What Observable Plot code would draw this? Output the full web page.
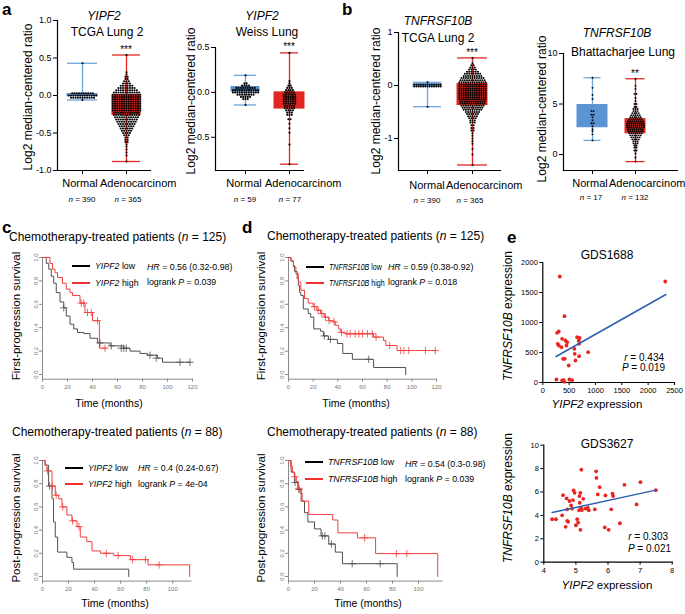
<!DOCTYPE html>
<html><head><meta charset="utf-8">
<script src="https://cdn.jsdelivr.net/npm/d3@7"></script>
<script src="https://cdn.jsdelivr.net/npm/@observablehq/plot@0.6"></script>
<style>
body{margin:0;background:#fff;}
#fig{position:relative;width:685px;height:614px;overflow:hidden;font-family:"Liberation Sans",Arial,Helvetica,sans-serif;color:#000;background:#fff;}
.t{position:absolute;white-space:nowrap;line-height:1;}
.p{position:absolute;}
.sw{position:absolute;height:2px;}
</style></head><body><div id="fig"></div>
<script>
// ---------------- DATA ----------------
const boxCategories = ["Normal", "Adenocarcinom"];
// five-number summaries: [min, q1, median, q3, max]
const a1Stats = [[-0.06, -0.01, 0.0, 0.02, 0.43], [-0.88, -0.26, -0.12, 0.0, 0.54]];
const a2Stats = [[-0.14, 0.01, 0.03, 0.06, 0.19], [-0.80, -0.18, -0.08, 0.0, 0.44]];
const b1Stats = [[-0.40, -0.02, 0.0, 0.02, 0.06], [-1.50, -0.37, -0.17, 0.03, 0.52]];
const b2Stats = [[1.4, 2.7, 3.6, 4.9, 7.6], [-0.7, 2.1, 2.8, 3.5, 7.5]];
const boxN = {a1: [390, 365], a2: [59, 77], b1: [390, 365], b2: [17, 132]};
// individual samples as [value, count at that level]
const a1NormalDots = [[0.43,1],[0.03,10],[0.0,13],[-0.03,11],[-0.06,1]];
const a1AdenoDots = [[0.54,1],[0.31,1],[0.28,1],[0.25,2],[0.22,2],[0.19,3],[0.16,4],[0.13,6],[0.10,8],[0.07,10],[0.04,12],[0.01,13],[-0.02,13],[-0.05,13],[-0.08,13],[-0.11,13],[-0.14,13],[-0.17,13],[-0.20,13],[-0.23,12],[-0.26,12],[-0.29,11],[-0.32,10],[-0.35,9],[-0.38,8],[-0.41,7],[-0.44,6],[-0.47,5],[-0.50,4],[-0.53,3],[-0.56,2],[-0.59,2],[-0.62,2],[-0.65,1],[-0.68,1],[-0.72,1],[-0.76,1],[-0.80,1],[-0.88,1]];
const a2NormalDots = [[0.19,1],[0.1,2],[0.075,4],[0.05,9],[0.025,12],[0.0,12],[-0.025,8],[-0.05,5],[-0.075,3],[-0.14,1]];
const a2AdenoDots = [[0.44,1],[0.125,1],[0.10,1],[0.075,2],[0.05,3],[0.025,4],[0.0,5],[-0.025,6],[-0.05,6],[-0.075,6],[-0.1,6],[-0.125,6],[-0.15,5],[-0.175,5],[-0.2,4],[-0.225,3],[-0.25,3],[-0.3,2],[-0.35,1],[-0.4,1],[-0.45,1],[-0.58,1],[-0.8,1]];
const b1NormalDots = [[0.06,1],[0.02,13],[-0.02,13],[-0.4,1]];
const b1AdenoDots = [[0.52,1],[0.42,1],[0.38,2],[0.34,3],[0.30,4],[0.26,6],[0.22,8],[0.18,9],[0.14,11],[0.10,12],[0.06,13],[0.02,13],[-0.02,13],[-0.06,13],[-0.10,13],[-0.14,13],[-0.18,13],[-0.22,13],[-0.26,13],[-0.30,12],[-0.34,12],[-0.38,11],[-0.42,10],[-0.46,9],[-0.50,7],[-0.54,6],[-0.58,5],[-0.62,4],[-0.66,3],[-0.70,3],[-0.75,2],[-0.80,2],[-0.85,2],[-0.9,1],[-0.95,1],[-1.0,1],[-1.05,1],[-1.1,1],[-1.2,1],[-1.3,1],[-1.5,1]];
const b2NormalDots = [[7.6,1],[6.6,1],[5.9,1],[5.5,1],[4.3,2],[3.95,2],[3.7,1],[3.4,1],[3.1,2],[2.8,1],[2.5,1],[2.3,1],[2.0,1],[1.4,1]];
const b2AdenoDots = [[7.5,1],[6.8,1],[6.5,1],[6.0,2],[5.6,1],[5.3,1],[5.0,2],[4.7,2],[4.5,3],[4.3,3],[4.1,4],[3.9,5],[3.7,6],[3.5,7],[3.3,8],[3.1,9],[2.9,9],[2.7,9],[2.5,8],[2.3,8],[2.1,7],[1.9,6],[1.7,5],[1.5,4],[1.3,3],[1.1,3],[0.9,2],[0.7,2],[0.4,2],[0.1,1],[-0.3,1],[-0.7,1]];
const a1Ticks = [-1, -0.5, 0, 0.5, 1];
const a2Ticks = [-0.5, 0, 0.5];
const b1Ticks = [-1, 0, 1];
const b2Ticks = [0, 5, 10];

// Kaplan-Meier curves (time in months, survival probability)
const cTopLowT = [0, 3, 5, 7, 9, 11, 14, 17, 19, 22, 25, 28, 33, 38, 44, 54, 65, 70, 78, 84, 92, 96, 118];
const cTopLowS = [1, 0.95, 0.9, 0.84, 0.78, 0.7, 0.62, 0.57, 0.5, 0.43, 0.39, 0.36, 0.35, 0.31, 0.27, 0.245, 0.225, 0.2, 0.18, 0.165, 0.14, 0.105, 0.105];
const cTopLowCensT = [17, 46, 55, 63, 65, 67, 86, 91, 110, 118];
const cTopLowCensS = [0.57, 0.27, 0.245, 0.225, 0.225, 0.225, 0.165, 0.14, 0.105, 0.105];
const cTopHighT = [0, 6, 8, 10, 12, 16, 19, 22, 24, 30, 34, 40, 45.5, 51];
const cTopHighS = [1, 0.95, 0.9, 0.87, 0.83, 0.78, 0.73, 0.7, 0.675, 0.61, 0.53, 0.46, 0.225, 0.225];
const cTopHighCensT = [31, 33, 36, 39, 44, 50];
const cTopHighCensS = [0.61, 0.61, 0.53, 0.53, 0.46, 0.225];

const cBotLowT = [0, 2, 4.7, 7.3, 8.5, 9.8, 11.6, 18.7, 22.6, 23.9, 66.2];
const cBotLowS = [1, 0.96, 0.78, 0.67, 0.47, 0.34, 0.21, 0.165, 0.12, 0.063, 0];
const cBotLowCensT = [5.4];
const cBotLowCensS = [0.78];
const cBotHighT = [0, 2, 3.4, 7.3, 9.8, 12.4, 15, 18.7, 22.6, 26.5, 29, 34, 38, 44.5, 54.7, 67.5, 81, 113];
const cBotHighS = [1, 0.96, 0.91, 0.78, 0.70, 0.67, 0.60, 0.53, 0.48, 0.43, 0.34, 0.30, 0.22, 0.20, 0.18, 0.145, 0.10, 0];
const cBotHighCensT = [3.8, 7.6, 10.5, 15.5, 23, 28, 49, 58, 69, 79, 89.5];
const cBotHighCensS = [0.91, 0.78, 0.70, 0.60, 0.48, 0.43, 0.20, 0.18, 0.145, 0.145, 0.10];

const dTopLowT = [0, 2, 4, 5, 7, 8, 9, 10, 12, 16, 18, 20.5, 26, 28.3, 32.4, 39.6, 44, 51.8, 69, 95];
const dTopLowS = [1, 0.97, 0.93, 0.88, 0.82, 0.76, 0.70, 0.675, 0.56, 0.52, 0.49, 0.39, 0.37, 0.33, 0.30, 0.265, 0.18, 0.13, 0.06, 0];
const dTopLowCensT = [29, 34, 65];
const dTopLowCensS = [0.33, 0.30, 0.13];
const dTopHighT = [0, 2, 4, 6, 8, 10, 13, 16, 20, 23, 26, 29, 32.6, 36.4, 38, 40.7, 42, 46, 69, 77, 79, 88, 119];
const dTopHighS = [1, 0.97, 0.92, 0.86, 0.79, 0.72, 0.65, 0.61, 0.58, 0.55, 0.52, 0.49, 0.46, 0.45, 0.42, 0.39, 0.36, 0.348, 0.32, 0.29, 0.248, 0.205, 0.205];
const dTopHighCensT = [21, 24, 27, 30, 33, 37, 43, 47.5, 50, 54, 57, 60, 64, 68, 71, 82, 91, 93.5, 97.5, 111, 119];
const dTopHighCensS = [0.58, 0.55, 0.52, 0.49, 0.46, 0.45, 0.36, 0.348, 0.348, 0.348, 0.348, 0.348, 0.348, 0.348, 0.32, 0.248, 0.205, 0.205, 0.205, 0.205, 0.205];

const dBotLowT = [0, 2, 4.6, 7.2, 9.7, 12.3, 14.9, 20, 25, 31, 36, 41.5, 83.6];
const dBotLowS = [1, 0.9, 0.81, 0.75, 0.65, 0.55, 0.47, 0.41, 0.35, 0.28, 0.21, 0.11, 0];
const dBotLowCensT = [5, 8, 26, 28, 33, 49, 70.5];
const dBotLowCensS = [0.81, 0.75, 0.35, 0.35, 0.28, 0.11, 0.11];
const dBotHighT = [0, 1.5, 3, 4.5, 6, 7.5, 9, 10.5, 15.6, 34, 38, 53, 67, 114.8];
const dBotHighS = [1, 0.95, 0.9, 0.86, 0.82, 0.76, 0.72, 0.65, 0.535, 0.487, 0.376, 0.333, 0.197, 0];
const dBotHighCensT = [5, 8, 58.5, 83, 91];
const dBotHighCensS = [0.86, 0.76, 0.333, 0.197, 0.197];
const kmYTicks = [0, 0.2, 0.4, 0.6, 0.8, 1.0];

// Scatter GDS1688
const e1X = [322, 2324, 411, 272, 303, 284, 303, 367, 430, 462, 450, 354, 386, 417, 492, 619, 600, 606, 651, 701, 682, 690, 690, 860, 259, 367, 398, 505, 556, 411];
const e1Y = [1767, 1683, 1105, 828, 850, 645, 617, 728, 700, 672, 617, 589, 395, 395, 283, 367, 561, 478, 756, 745, 700, 645, 439, 506, 50, 33, 39, 50, 39, 11];
const e1FitX = [253, 2337];
const e1FitY = [433, 1467];
const e1XTicks = [0, 500, 1000, 1500, 2000, 2500];
const e1YTicks = [0, 500, 1000, 1500, 2000];
// Scatter GDS3627
const e2X = [4.26, 4.38, 4.57, 4.60, 4.68, 4.71, 4.73, 4.76, 4.80, 4.73, 4.88, 4.93, 4.96, 4.91, 5.00, 5.04, 5.07, 5.14, 5.17, 5.14, 5.11, 5.12, 5.16, 5.19, 5.23, 5.10, 5.30, 5.37, 5.40, 5.59, 5.63, 5.64, 5.68, 5.74, 5.92, 5.90, 6.02, 6.10, 6.14, 6.16, 6.37, 6.51, 6.89, 7.01, 7.49, 4.85];
const e2Y = [3.67, 3.67, 4.01, 5.73, 3.02, 5.45, 3.53, 3.45, 5.23, 4.52, 4.58, 6.13, 5.93, 5.31, 3.16, 3.67, 3.39, 2.77, 7.91, 5.93, 5.65, 5.08, 4.66, 4.46, 5.42, 4.44, 4.58, 4.66, 4.44, 4.52, 7.77, 7.20, 5.79, 6.41, 5.71, 2.97, 2.77, 4.52, 5.85, 5.65, 3.33, 6.61, 4.94, 6.84, 6.16, 4.86];
const e2FitX = [4.26, 7.49];
const e2FitY = [4.24, 6.16];
const e2XTicks = [4, 5, 6, 7, 8];
const e2YTicks = [0, 2, 4, 6, 8, 10];

// ---------------- HELPERS ----------------
const FONT = '"Liberation Sans", Arial, Helvetica, sans-serif';
const BLUE = "#5b93d3", BLUE_W = "#6ea6de", RED = "#e3261f";
const KM_LOW = "#505050", KM_HIGH = "#f23f3f";
const fig = document.getElementById("fig");
const baseStyle = {fontFamily: FONT, fontSize: "9px", background: "transparent", color: "#000", overflow: "visible"};

function place(el, left, top) {
  const d = document.createElement("div");
  d.className = "p"; d.style.left = left + "px"; d.style.top = top + "px";
  d.appendChild(el); fig.appendChild(d);
}
function txt(html, x, cy, o = {}) {
  const d = document.createElement("div");
  d.className = "t"; d.innerHTML = html;
  d.style.fontSize = (o.fs || 12) + "px";
  d.style.left = x + "px"; d.style.top = cy + "px";
  if (o.bold) d.style.fontWeight = "bold";
  if (o.color) d.style.color = o.color;
  const tx = o.anchor === "middle" ? "-50%" : o.anchor === "end" ? "-100%" : "0";
  const sx = o.sx ? ` scaleX(${o.sx})` : "";
  if (o.sx) d.style.transformOrigin = "0 50%";
  d.style.transform = o.rotate ? "translate(-50%,-50%) rotate(-90deg)" : `translate(${tx},-50%)${sx}`;
  fig.appendChild(d);
}
function swatch(x1, x2, y, color) {
  const d = document.createElement("div");
  d.className = "sw"; d.style.left = x1 + "px"; d.style.width = (x2 - x1) + "px";
  d.style.top = (y - 1) + "px"; d.style.background = color; fig.appendChild(d);
}
const rows = (t, s) => t.map((tt, i) => ({t: tt, s: s[i]}));
const pts = (xs, ys) => xs.map((x, i) => ({x, y: ys[i]}));

function boxPanel(p) {
  const {left, top, width, height, mL, mR, mT, mB, domain, ticks, fmt, centers, bw, stats, dots, caps, insets, colors, whisk, r, gap} = p;
  const step = centers[1] - centers[0];
  const marks = [];
  boxCategories.forEach((g, i) => {
    const s = stats[i];
    const row = [{g, min: s[0], q1: s[1], med: s[2], q3: s[3], max: s[4]}];
    marks.push(Plot.ruleX(row, {x: "g", y1: "min", y2: "max", stroke: whisk[i], strokeWidth: 1.3}));
    marks.push(Plot.tickY(row, {x: "g", y: "min", stroke: whisk[i], strokeWidth: 1.3, insetLeft: caps[i], insetRight: caps[i]}));
    marks.push(Plot.tickY(row, {x: "g", y: "max", stroke: whisk[i], strokeWidth: 1.3, insetLeft: caps[i], insetRight: caps[i]}));
    marks.push(Plot.barY(row, {x: "g", y1: "q1", y2: "q3", fill: colors[i], stroke: colors[i], strokeWidth: 1, insetLeft: insets[i], insetRight: insets[i]}));
  });
  // column scatter: samples sharing a level are spread in a centred row
  boxCategories.forEach((g, i) => {
    const slots = new Map();
    dots[i].forEach(([v, k]) => {
      for (let j = 0; j < k; j++) {
        const s = j - (k - 1) / 2;
        if (!slots.has(s)) slots.set(s, []);
        slots.get(s).push({g, v});
      }
    });
    for (const [s, arr] of slots) marks.push(Plot.dot(arr, {x: "g", y: "v", r, fill: "#000", dx: s * gap}));
  });
  marks.push(Plot.frame({anchor: "left", stroke: "#000", strokeWidth: 1.2}));
  marks.push(Plot.frame({anchor: "bottom", stroke: "#000", strokeWidth: 1.2}));
  marks.push(Plot.axisY({ticks, tickFormat: fmt, tickSize: 4, tickPadding: 2, fontSize: 9, label: null}));
  marks.push(Plot.axisX({tickSize: 4, tickFormat: () => "", label: null}));
  const plot = Plot.plot({
    width, height, marginLeft: mL, marginRight: mR, marginTop: mT, marginBottom: mB,
    x: {type: "band", domain: boxCategories, range: [centers[0] - bw / 2, centers[1] + bw / 2], paddingInner: (step - bw) / step, paddingOuter: 0, align: 0.5},
    y: {domain},
    style: baseStyle,
    marks
  });
  place(plot, left, top);
}

function kmPanel(p) {
  const {left, top, width, height, mL, mR, mT, mB, xmax, xticks, low, high, lowC, highC} = p;
  const plot = Plot.plot({
    width, height, marginLeft: mL, marginRight: mR, marginTop: mT, marginBottom: mB,
    x: {domain: [0, xmax]}, y: {domain: [-0.04, 1]},
    style: baseStyle,
    marks: [
      Plot.frame({anchor: "left", stroke: "#8a8a8a"}),
      Plot.frame({anchor: "bottom", stroke: "#8a8a8a"}),
      Plot.line(low, {x: "t", y: "s", curve: "step-after", stroke: KM_LOW, strokeWidth: 1}),
      Plot.line(high, {x: "t", y: "s", curve: "step-after", stroke: KM_HIGH, strokeWidth: 1}),
      Plot.dot(lowC, {x: "t", y: "s", symbol: "plus", r: 2.5, stroke: KM_LOW, strokeWidth: 0.8}),
      Plot.dot(highC, {x: "t", y: "s", symbol: "plus", r: 2.5, stroke: KM_HIGH, strokeWidth: 0.8}),
      Plot.axisX({ticks: xticks, tickSize: 3, tickPadding: 3, fontSize: 6, stroke: "#8a8a8a", fill: "#777", label: null}),
      Plot.axisY({ticks: kmYTicks, tickFormat: d => d.toFixed(1), tickSize: 3, tickPadding: 2, tickRotate: -90, fontSize: 6, stroke: "#8a8a8a", fill: "#777", label: null})
    ]
  });
  place(plot, left, top);
}

function scatterPanel(p) {
  const {left, top, width, height, mL, mR, mT, mB, xDomain, yDomain, xTicks, yTicks, data, fit} = p;
  const plot = Plot.plot({
    width, height, marginLeft: mL, marginRight: mR, marginTop: mT, marginBottom: mB,
    x: {domain: xDomain}, y: {domain: yDomain},
    style: baseStyle,
    marks: [
      Plot.frame({anchor: "left", stroke: "#000", strokeWidth: 1.2}),
      Plot.frame({anchor: "bottom", stroke: "#000", strokeWidth: 1.2}),
      Plot.dot(data, {x: "x", y: "y", r: 1.9, fill: "#e8261f"}),
      Plot.line(fit, {x: "x", y: "y", stroke: "#2d5fb0", strokeWidth: 1.5}),
      Plot.axisX({ticks: xTicks, tickFormat: d => String(d), tickSize: 3, tickPadding: 2, fontSize: 7.5, label: null}),
      Plot.axisY({ticks: yTicks, tickFormat: d => String(d), tickSize: 3, tickPadding: 2, fontSize: 7.5, label: null})
    ]
  });
  place(plot, left, top);
}

// ---------------- PANELS a, b ----------------
const f1 = d => d.toFixed(1), f0 = d => String(d);
boxPanel({left: 0, top: 0, width: 170, height: 192, mL: 57, mR: 20, mT: 20, mB: 22, domain: [-1, 1], ticks: a1Ticks, fmt: f1, r: 1.05, gap: 2.3,
  centers: [82, 126], bw: 30, stats: a1Stats, dots: [a1NormalDots, a1AdenoDots], caps: [0, 1], insets: [0, 1], colors: [BLUE, RED], whisk: [BLUE_W, RED]});
boxPanel({left: 170, top: 0, width: 140, height: 192, mL: 45, mR: 7, mT: 47, mB: 22, domain: [-0.87, 0.5], ticks: a2Ticks, fmt: f1, r: 1.05, gap: 2.3,
  centers: [75, 119], bw: 30, stats: a2Stats, dots: [a2NormalDots, a2AdenoDots], caps: [4, 6], insets: [1, 0], colors: [BLUE, RED], whisk: [BLUE_W, RED]});
boxPanel({left: 340, top: 0, width: 170, height: 192, mL: 58, mR: 10, mT: 32, mB: 22, domain: [-1.604, 1], ticks: b1Ticks, fmt: f0, r: 1.0, gap: 2.2,
  centers: [87, 132], bw: 30, stats: b1Stats, dots: [b1NormalDots, b1AdenoDots], caps: [1, 0], insets: [1, 0], colors: [BLUE, RED], whisk: [BLUE_W, RED]});
boxPanel({left: 510, top: 0, width: 175, height: 192, mL: 53, mR: 8, mT: 53, mB: 22, domain: [-1.58, 10], ticks: b2Ticks, fmt: f0, r: 0.95, gap: 2.1,
  centers: [82, 125], bw: 30, stats: b2Stats, dots: [b2NormalDots, b2AdenoDots], caps: [6.5, 5.5], insets: [0, 5], colors: [BLUE, RED], whisk: [BLUE_W, RED]});

// ---------------- PANELS c, d ----------------
const T120 = [0, 20, 40, 60, 80, 100, 120], T100 = [0, 20, 40, 60, 80, 100];
kmPanel({left: 0, top: 240, width: 200, height: 175, mL: 42, mR: 8, mT: 17, mB: 36.3, xmax: 120, xticks: T120,
  low: rows(cTopLowT, cTopLowS), high: rows(cTopHighT, cTopHighS), lowC: rows(cTopLowCensT, cTopLowCensS), highC: rows(cTopHighCensT, cTopHighCensS)});
kmPanel({left: 246, top: 240, width: 200, height: 175, mL: 42, mR: 10, mT: 17, mB: 36.3, xmax: 120, xticks: T120,
  low: rows(dTopLowT, dTopLowS), high: rows(dTopHighT, dTopHighS), lowC: rows(dTopLowCensT, dTopLowCensS), highC: rows(dTopHighCensT, dTopHighCensS)});
kmPanel({left: 0, top: 443, width: 200, height: 160, mL: 42, mR: 9.5, mT: 17, mB: 22.4, xmax: 114, xticks: T100,
  low: rows(cBotLowT, cBotLowS), high: rows(cBotHighT, cBotHighS), lowC: rows(cBotLowCensT, cBotLowCensS), highC: rows(cBotHighCensT, cBotHighCensS)});
kmPanel({left: 246, top: 443, width: 200, height: 160, mL: 42, mR: 4.6, mT: 17, mB: 22.4, xmax: 118, xticks: T100,
  low: rows(dBotLowT, dBotLowS), high: rows(dBotHighT, dBotHighS), lowC: rows(dBotLowCensT, dBotLowCensS), highC: rows(dBotHighCensT, dBotHighCensS)});

// ---------------- PANEL e ----------------
scatterPanel({left: 500, top: 250, width: 185, height: 160, mL: 42.3, mR: 11, mT: 12, mB: 28, xDomain: [0, 2500], yDomain: [0, 2000],
  xTicks: e1XTicks, yTicks: e1YTicks, data: pts(e1X, e1Y), fit: pts(e1FitX, e1FitY)});
scatterPanel({left: 500, top: 440, width: 185, height: 160, mL: 43.3, mR: 13.3, mT: 4.7, mB: 38.3, xDomain: [4, 8], yDomain: [0, 10],
  xTicks: e2XTicks, yTicks: e2YTicks, data: pts(e2X, e2Y), fit: pts(e2FitX, e2FitY)});

// ---------------- TEXT ----------------
txt("a", 2, 9, {fs: 17, bold: true});
txt("b", 342, 9, {fs: 17, bold: true});
txt("c", 2, 227, {fs: 17, bold: true});
txt("d", 242, 227, {fs: 17, bold: true});
txt("e", 507, 237, {fs: 17, bold: true});
txt("<i>YIPF2</i>", 104, 16, {anchor: "middle"});
txt("TCGA Lung 2", 107, 32, {anchor: "middle"});
txt("***", 126, 50, {anchor: "middle", fs: 10});
txt("<i>YIPF2</i>", 262, 16, {anchor: "middle"});
txt("Weiss Lung", 267, 32, {anchor: "middle"});
txt("***", 289, 47, {anchor: "middle", fs: 10});
txt("<i>TNFRSF10B</i>", 438, 21, {anchor: "middle"});
txt("TCGA Lung 2", 438, 38, {anchor: "middle"});
txt("***", 472, 53, {anchor: "middle", fs: 10});
txt("<i>TNFRSF10B</i>", 617, 33, {anchor: "middle"});
txt("Bhattacharjee Lung", 623, 52, {anchor: "middle"});
txt("**", 635, 74, {anchor: "middle", fs: 10});
txt("Log2 median-centered ratio", 28, 97, {rotate: true});
txt("Log2 median-centered ratio", 191, 101, {rotate: true});
txt("Log2 median-centered ratio", 376, 101, {rotate: true});
txt("Log2 median-centered ratio", 542, 109, {rotate: true});
// category labels (Normal centred under its tick, Adenocarcinom starting just after it)
[[80, 100, 183], [244, 265, 183], [427, 446, 185], [590, 609, 183]].forEach(([nx, ax, y]) => {
  txt(boxCategories[0], nx, y, {anchor: "middle", fs: 11});
  txt(boxCategories[1], ax, y, {fs: 11});
});
const nPos = [["a1", 0, [82, 128], 200], ["a2", 170, [75, 120], 200], ["b1", 340, [87, 130], 201], ["b2", 510, [81, 125], 198]];
nPos.forEach(([k, off, cs, y]) => boxN[k].forEach((n, i) => txt(`<i>n</i> = ${n}`, off + cs[i], y, {anchor: "middle", fs: 8})));

txt("Chemotherapy-treated patients (<i>n</i> = 125)", 9, 237, {fs: 12});
txt("Chemotherapy-treated patients (<i>n</i> = 125)", 267, 236, {fs: 12});
txt("Chemotherapy-treated patients (<i>n</i> = 88)", 12, 432, {fs: 12});
txt("Chemotherapy-treated patients (<i>n</i> = 88)", 267, 432, {fs: 12});
txt("First-progression survival", 17, 316, {rotate: true, fs: 11.5});
txt("First-progression survival", 262, 316, {rotate: true, fs: 11.5});
txt("Post-progression survival", 17, 518, {rotate: true, fs: 11.5});
txt("Post-progression survival", 262, 518, {rotate: true, fs: 11.5});
txt("Time (months)", 109, 403, {anchor: "middle", fs: 10.5});
txt("Time (months)", 356, 403, {anchor: "middle", fs: 10.5});
txt("Time (months)", 115, 603, {anchor: "middle", fs: 10.5});
txt("Time (months)", 368, 603, {anchor: "middle", fs: 10.5});
function kmLegend(gene, lx, ly1, ly2, hx, hr, p, hy1, hy2, sx) {
  swatch(lx, lx + 18, ly1, "#000");
  swatch(lx, lx + 18, ly2, "#f0302a");
  txt(`<i>${gene}</i> low`, lx + 23, ly1, {fs: 8.8, sx});
  txt(`<i>${gene}</i> high`, lx + 23, ly2, {fs: 8.8, sx});
  txt(`<i>HR</i> = ${hr}`, hx, hy1, {fs: 8.8});
  txt(`logrank <i>P</i> = ${p}`, hx, hy2, {fs: 8.8});
}
kmLegend("YIPF2", 72, 266, 283, 147, "0.56 (0.32-0.98)", "0.039", 267, 282);
kmLegend("TNFRSF10B", 306, 267, 283, 388, "0.59 (0.38-0.92)", "0.018", 267, 282, 0.8);
kmLegend("YIPF2", 65, 468, 484, 138, "0.4 (0.24-0.67)", "4e-04", 468, 484);
kmLegend("TNFRSF10B", 305, 462, 479, 405, "0.54 (0.3-0.98)", "0.039", 464, 479);

txt("GDS1688", 607, 255, {anchor: "middle", fs: 12});
txt("GDS3627", 607, 444, {anchor: "middle", fs: 12});
txt("<i>r</i> = 0.434", 664, 358, {anchor: "end", fs: 10});
txt("<i>P</i> = 0.019", 665, 368, {anchor: "end", fs: 10});
txt("<i>r</i> = 0.303", 668, 537, {anchor: "end", fs: 10});
txt("<i>P</i> = 0.021", 671, 549, {anchor: "end", fs: 10});
txt("<i>YIPF2</i> expression", 597, 405, {anchor: "middle", fs: 11.5});
txt("<i>YIPF2</i> expression", 607, 586, {anchor: "middle", fs: 11.5});
txt("<i>TNFRSF10B</i> expression", 508, 316, {rotate: true, fs: 12});
txt("<i>TNFRSF10B</i> expression", 508, 498, {rotate: true, fs: 12});
</script></body></html>
